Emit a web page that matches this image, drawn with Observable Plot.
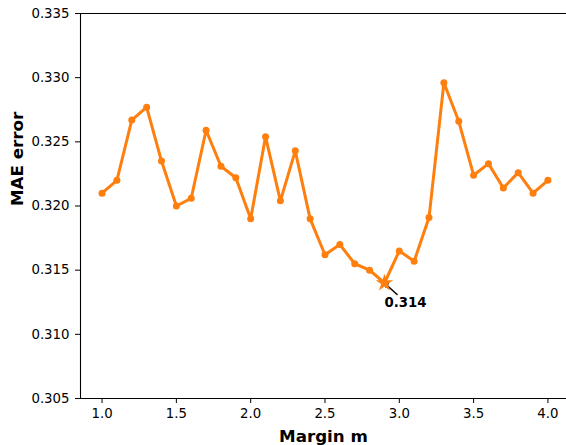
<!DOCTYPE html>
<html>
<head>
<meta charset="utf-8">
<script src="https://cdn.jsdelivr.net/npm/d3@7"></script>
<script src="https://cdn.jsdelivr.net/npm/@observablehq/plot@0.6"></script>
<style>
  html, body { margin: 0; padding: 0; background: #fff; overflow: hidden; }
  #chart svg { font-family: "DejaVu Sans", sans-serif; }
  #chart svg g[aria-label="x-axis tick label"] text,
  #chart svg g[aria-label="y-axis tick label"] text { font-size: 13.3px; fill: #000; }
</style>
</head>
<body>
<div id="chart"></div>
<script>
const margins = [1.0, 1.1, 1.2, 1.3, 1.4, 1.5, 1.6, 1.7, 1.8, 1.9, 2.0, 2.1, 2.2, 2.3, 2.4, 2.5, 2.6, 2.7, 2.8, 2.9, 3.0, 3.1, 3.2, 3.3, 3.4, 3.5, 3.6, 3.7, 3.8, 3.9, 4.0];
const maeValues = [0.3210, 0.3220, 0.3267, 0.3277, 0.3235, 0.3200, 0.3206, 0.3259, 0.3231, 0.3222, 0.3190, 0.3254, 0.3204, 0.3243, 0.3190, 0.3162, 0.3170, 0.3155, 0.3150, 0.3140, 0.3165, 0.3157, 0.3191, 0.3296, 0.3266, 0.3224, 0.3233, 0.3214, 0.3226, 0.3210, 0.3220];
const xTicks = [1.0, 1.5, 2.0, 2.5, 3.0, 3.5, 4.0];
const yTicks = [0.305, 0.310, 0.315, 0.320, 0.325, 0.330, 0.335];
const xLabel = "Margin m";
const yLabel = "MAE error";

const data = margins.map((m, i) => ({m, v: maeValues[i]}));
let minIdx = 0;
maeValues.forEach((v, i) => { if (v < maeValues[minIdx]) minIdx = i; });
const best = data[minIdx];
const annText = [{m: best.m, v: best.v, label: best.v.toFixed(3)}];
const annArrow = [{x1: best.m + 0.085, y1: best.v - 0.0009, x2: best.m, y2: best.v}];

const orange = "#ff7f0e";
const xDomain = [0.855, 4.125];
const yDomain = [0.305, 0.335];

const chart = Plot.plot({
  width: 566,
  height: 445,
  marginLeft: 80,
  marginRight: 0,
  marginTop: 13,
  marginBottom: 47,
  style: {fontFamily: "DejaVu Sans, sans-serif", fontSize: "13px", color: "#000", background: "#fff"},
  x: {domain: xDomain, label: null},
  y: {domain: yDomain, label: null},
  marks: [
    Plot.axisX({ticks: xTicks, tickFormat: d3.format(".1f"), tickSize: 5, tickPadding: 5, label: null, fontSize: 13.3}),
    Plot.axisY({ticks: yTicks, tickFormat: d3.format(".3f"), tickSize: 5, tickPadding: 6, label: null, fontSize: 13.3}),
    Plot.ruleX([xDomain[0]], {stroke: "#000", strokeWidth: 1.1}),
    Plot.ruleY([yDomain[0], yDomain[1]], {stroke: "#000", strokeWidth: 1.1}),
    Plot.line(data, {x: "m", y: "v", stroke: orange, strokeWidth: 3}),
    Plot.dot(data.filter((d, i) => i !== minIdx), {x: "m", y: "v", r: 3.5, fill: orange, stroke: "none"}),
    Plot.arrow(annArrow, {x1: "x1", y1: "y1", x2: "x2", y2: "y2", stroke: "#000", strokeWidth: 1.5, headLength: 4, insetEnd: 0}),
    Plot.dot([best], {x: "m", y: "v", symbol: "star", r: 5.5, fill: orange, stroke: "none"}),
    Plot.text(annText, {x: "m", y: "v", text: "label", dy: 15, lineAnchor: "top", textAnchor: "start", fontWeight: "bold", fontSize: 13.3, fill: "#000"}),
    Plot.text([xLabel], {frameAnchor: "bottom", dy: 38, lineAnchor: "middle", fontWeight: "bold", fontSize: 16.7, fill: "#000"}),
    Plot.text([yLabel], {frameAnchor: "left", dx: -63, rotate: -90, lineAnchor: "middle", fontWeight: "bold", fontSize: 16.7, fill: "#000"})
  ]
});
document.getElementById("chart").appendChild(chart);
</script>
</body>
</html>
